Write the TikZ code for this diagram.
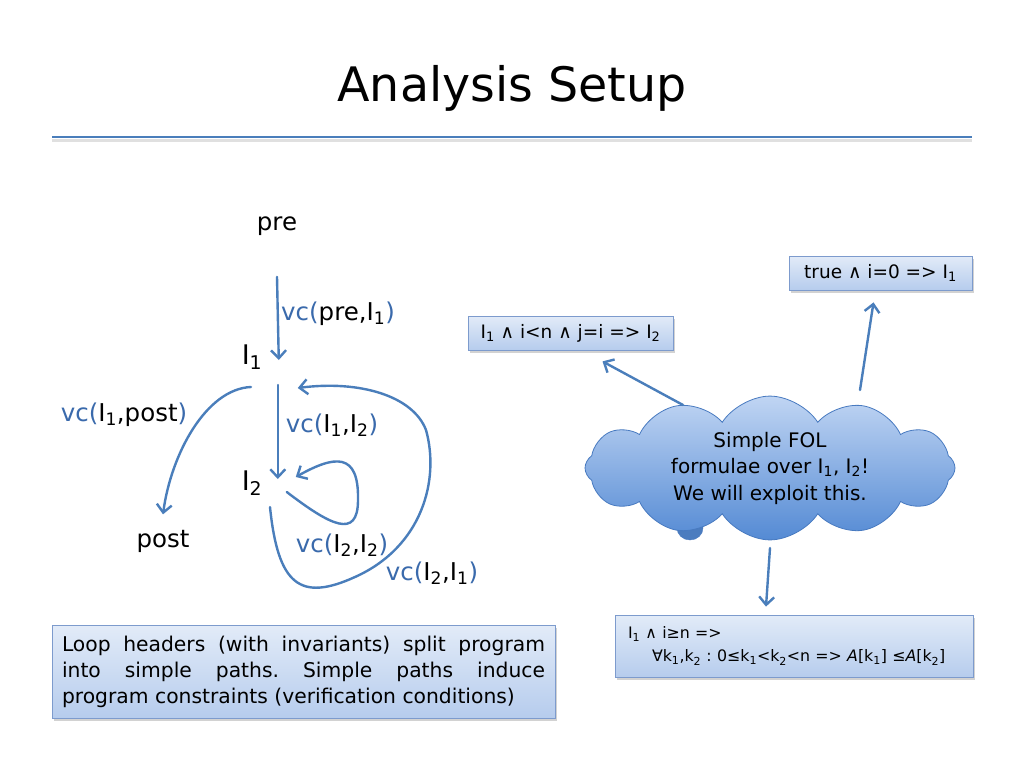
\documentclass[tikz,border=0pt]{standalone}
\usepackage{fontspec}
\setmainfont{DejaVu Sans}
\newfontfamily\symf{DejaVu Sans}
\usetikzlibrary{positioning, arrows.meta, shapes.symbols, shadows}

\definecolor{arrowblue}{RGB}{74,126,187}
\definecolor{vcblue}{RGB}{58,106,172}
\definecolor{boxtop}{RGB}{226,235,248}
\definecolor{boxbot}{RGB}{182,204,237}
\definecolor{boxline}{RGB}{125,155,205}
\definecolor{cloudtop}{RGB}{192,213,243}
\definecolor{cloudbot}{RGB}{84,138,212}
\definecolor{cloudline}{RGB}{72,122,192}

\newcommand{\vc}[1]{\textcolor{vcblue}{vc(}#1\textcolor{vcblue}{)}}
\newcommand{\Is}[1]{I\textsubscript{#1}}
\newcommand{\andop}{{\symf ∧}}

\tikzset{
  flow/.style={draw=arrowblue, line width=2.4pt, line cap=round,
    -{Straight Barb[length=8pt,width=15pt]}},
  formula/.style={draw=boxline, line width=0.8pt, top color=boxtop, bottom color=boxbot,
    drop shadow={shadow xshift=2pt, shadow yshift=-2.5pt, opacity=0.35},
    font=\fontsize{18.5}{24}\selectfont, inner xsep=10pt},
  vclabel/.style={font=\fontsize{24.5}{28}\selectfont},
}

\begin{document}
\frenchspacing
\hyphenpenalty=10000
\begin{tikzpicture}[x=1pt, y=-1pt]
    \useasboundingbox[fill=white] (0,0) rectangle (1024,768);

    % Title and rule
    \node (title) at (512,88) {\fontsize{47.5}{58}\selectfont Analysis Setup};
    \draw[line width=3pt, black!12] (52,140) -- (972,140);
    \draw[line width=2.6pt, arrowblue] (52,137) -- (972,137);

    % Program points
    \node[vclabel] (pre) at (277,226) {pre};
    \node[font=\fontsize{27}{30}\selectfont] (I1) at (252,357) {\Is{1}};
    \node[font=\fontsize{27}{30}\selectfont] (I2) at (252,483) {\Is{2}};
    \node[vclabel] (post) at (163,541) {post};

    % Verification conditions
    \draw[flow] ([yshift=-38pt]pre.south) -- ([xshift=13pt,yshift=-3pt]I1.east);
    \draw[flow] ([xshift=-1pt,yshift=-14pt]I1.south) .. controls +(-45,2) and +(8,-60) .. ([yshift=12pt]post.north);
    \draw[flow] ([xshift=12pt,yshift=-28pt]I1.east) -- ([xshift=12pt,yshift=4pt]I2.east);
    \draw[flow] ([xshift=21pt,yshift=-9pt]I2.east) .. controls (330,525) and (358,540) .. (358,500)
        .. controls (359,452) and (335,455) .. ([xshift=30pt,yshift=6pt]I2.east);
    \draw[flow] ([xshift=18pt,yshift=-8pt]I2.south) .. controls (278,585) and (300,602) .. (355,577)
        .. controls (422,547) and (440,480) .. (426,430)
        .. controls (413,396) and (360,380) .. ([xshift=32pt,yshift=-31pt]I1.east);

    \node[vclabel] (vpre) at (338,314) {\vc{pre,\Is{1}}};
    \node[vclabel] (vpost) at (124,415) {\vc{\Is{1},post}};
    \node[vclabel] (v12) at (332,425) {\vc{\Is{1},\Is{2}}};
    \node[vclabel] (v22) at (342,545) {\vc{\Is{2},\Is{2}}};
    \node[vclabel] (v21) at (432,573) {\vc{\Is{2},\Is{1}}};

    % Formulae
    \node[formula, minimum width=205pt, minimum height=34pt] (f12) at (570.5,333)
        {\Is{1} \andop{} i<n \andop{}  j=i => \Is{2}};
    \node[formula, minimum width=183pt, minimum height=34pt] (fpre) at (880.5,273)
        {true \andop{} i=0 => \Is{1}};
    \node[formula, text width=332pt, minimum height=62pt, inner xsep=13pt, align=left,
          font=\fontsize{15.8}{23}\selectfont] (fpost) at (794,646)
        {\Is{1} \andop{} i≥n =>\\
         \hspace*{24pt}∀k\textsubscript{1},k\textsubscript{2} : 0≤k\textsubscript{1}<k\textsubscript{2}<n => \textit{A}[k\textsubscript{1}] ≤\textit{A}[k\textsubscript{2}]};

    % Cloud
    \fill[cloudbot!90!black, draw=cloudline] (690,528) ellipse (13 and 12);
    \node[cloud, cloud puffs=12, cloud puff arc=115, aspect=2.6, draw=cloudline, line width=0.8pt,
          top color=cloudtop, bottom color=cloudbot, minimum width=370pt, minimum height=140pt,
          inner sep=0pt, align=center, font=\fontsize{20}{26.5}\selectfont] (fol) at (770,468)
        {Simple FOL\\ formulae over \Is{1}, \Is{2}!\\ We will exploit this.};

    \draw[flow] ([xshift=-87pt,yshift=63pt]fol.center) -- ([xshift=32pt,yshift=-11pt]f12.south);
    \draw[flow] ([xshift=90pt,yshift=78pt]fol.center) -- ([xshift=-7pt,yshift=-12pt]fpre.south);
    \draw[flow] ([yshift=-80pt]fol.center) -- ([xshift=-28pt,yshift=8pt]fpost.north);

    % Explanation
    \node[formula, text width=483pt, minimum height=93pt, align=justify,
          font=\fontsize{20.3}{26}\selectfont] (note) at (303.5,671.5)
        {Loop headers (with invariants) split program\linebreak
         into simple paths. Simple paths induce\linebreak
         program constraints (verification conditions)};
\end{tikzpicture}
\end{document}
